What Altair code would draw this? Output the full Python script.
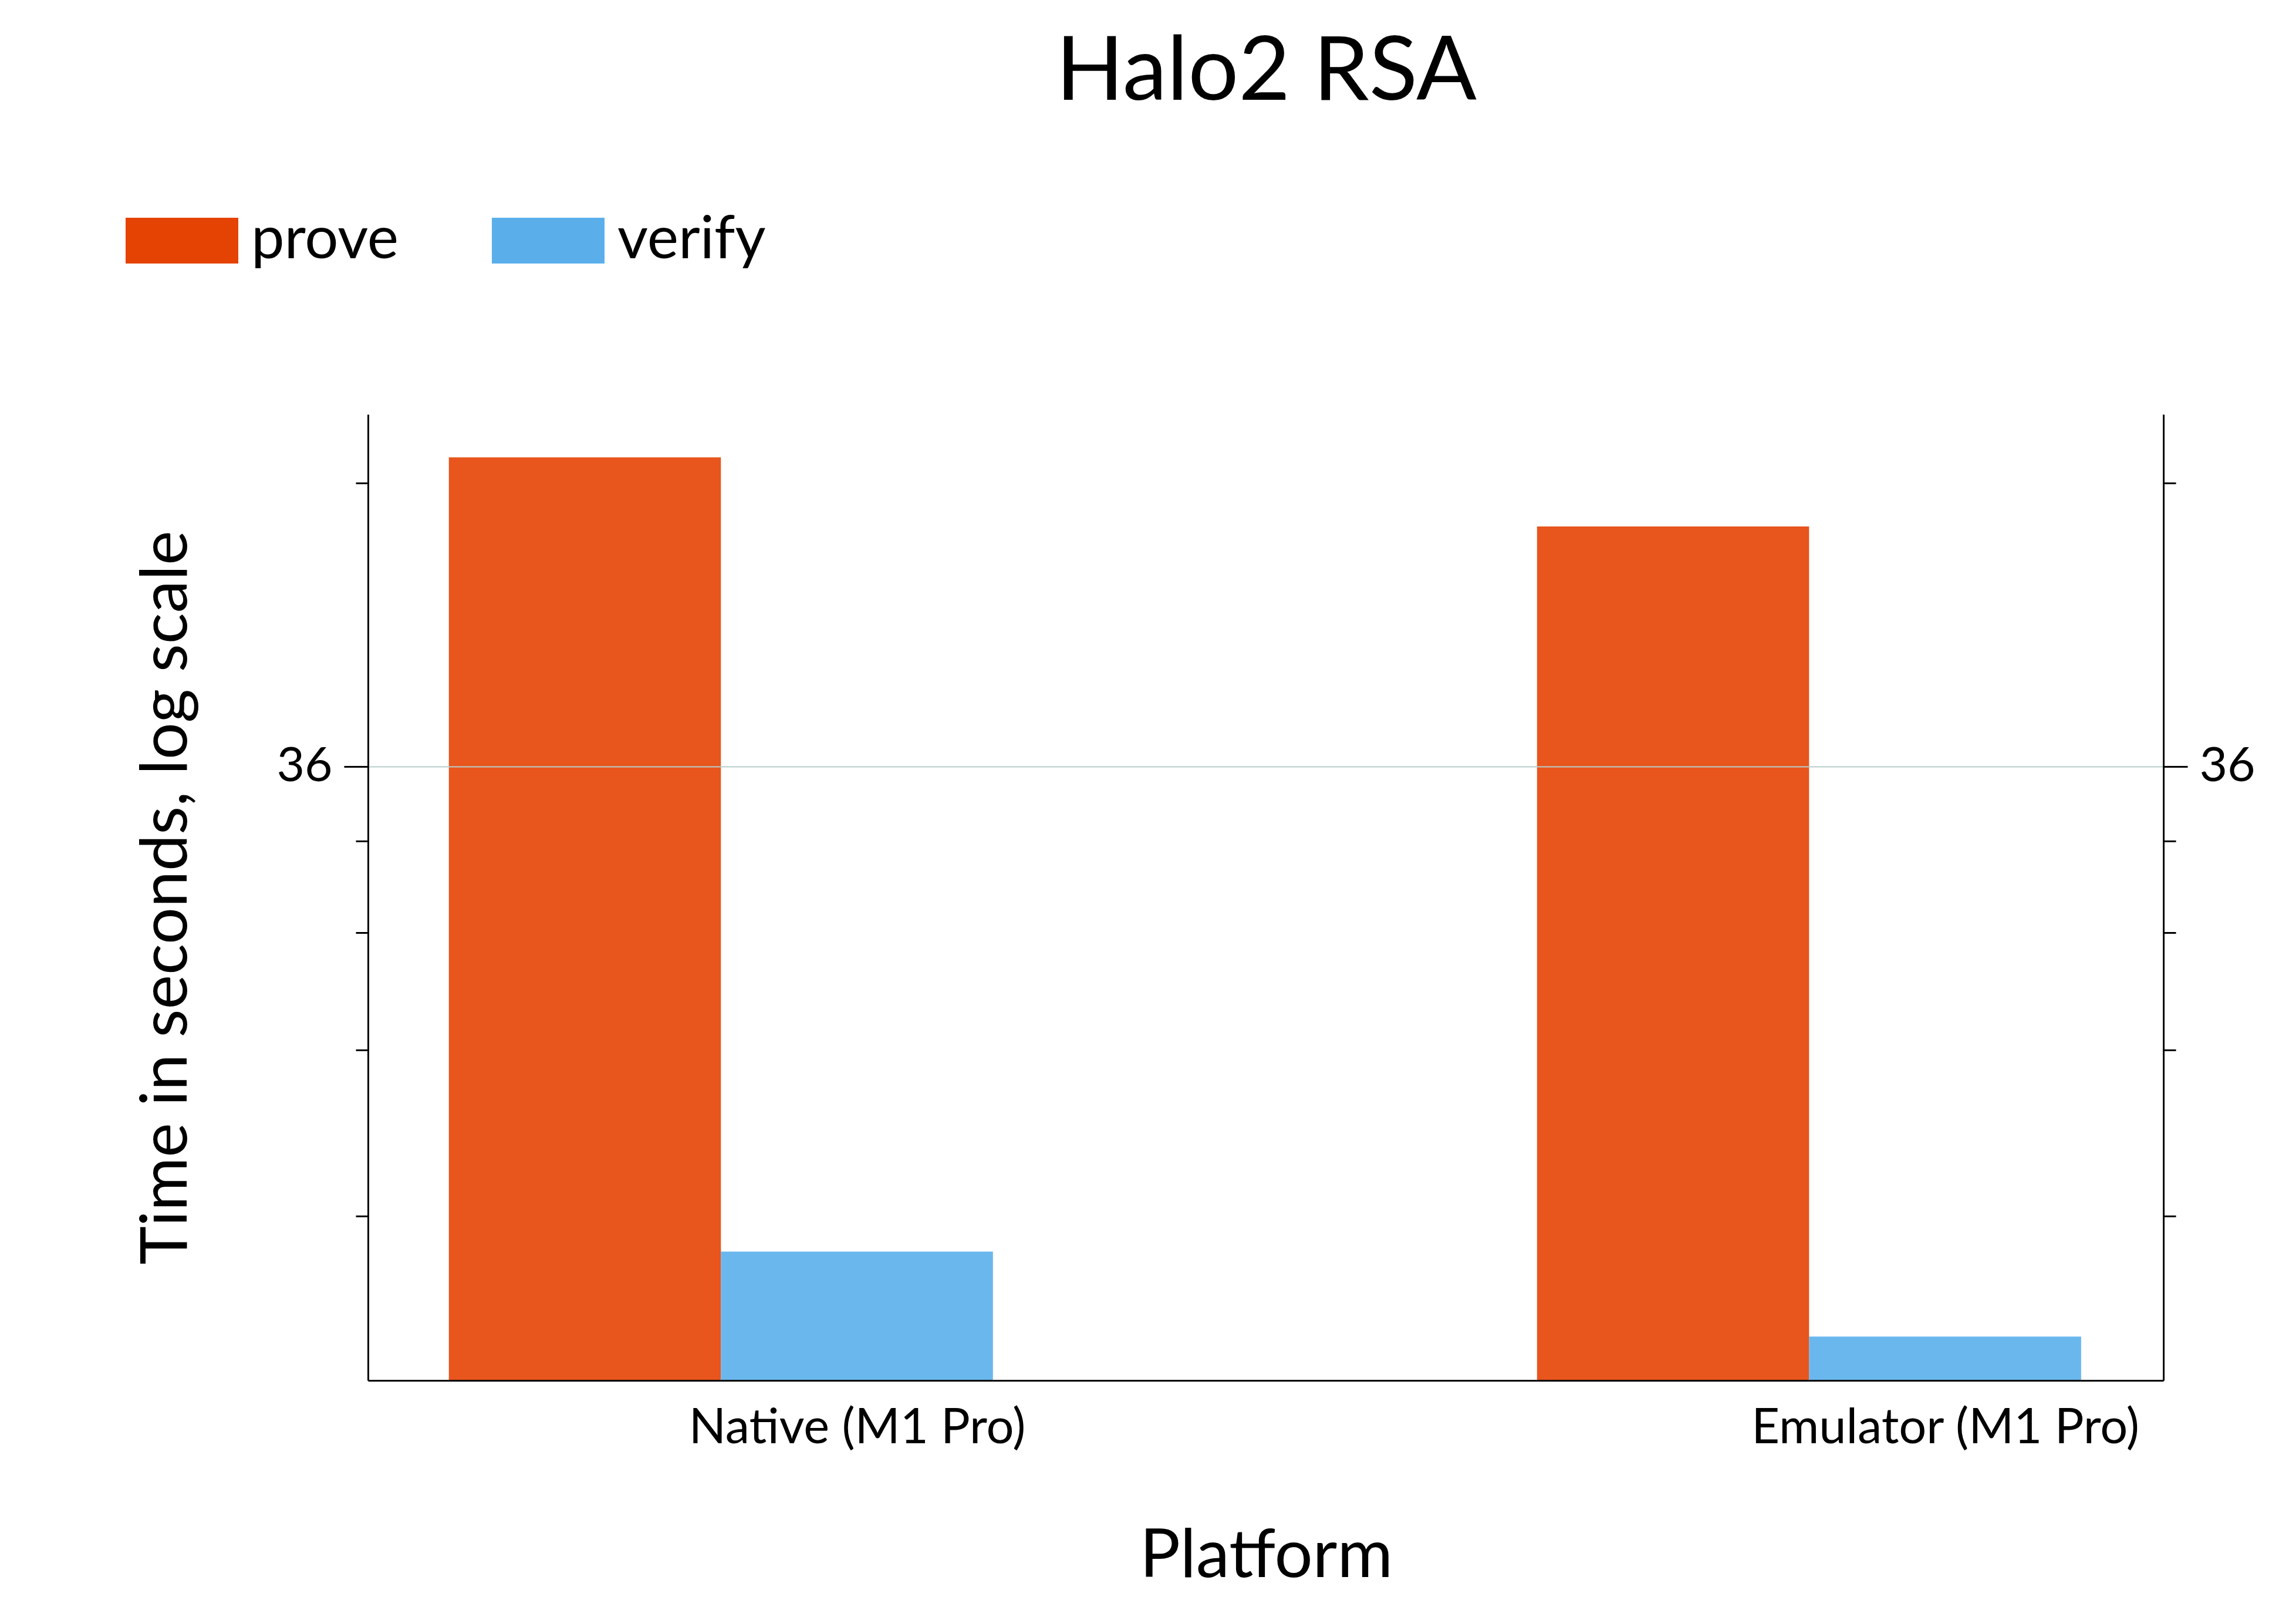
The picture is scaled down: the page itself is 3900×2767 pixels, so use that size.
import altair as alt
import pandas as pd

# ---- data ----
platforms = ["Native (M1 Pro)", "Emulator (M1 Pro)"]
series = ["prove", "verify"]
prove_seconds = [76.6, 64.7]
verify_seconds = [11.0, 8.94]

y_tick_values = [12, 18, 24, 30, 36, 72]
y_labelled = 36
y_min, y_max = 8.03, 85.1

colors = ["#E54304", "#5AAFEB"]
chart_title = "Halo2 RSA"

rows = []
for i, p in enumerate(platforms):
    rows.append({"platform": p, "series": "prove", "seconds": prove_seconds[i]})
    rows.append({"platform": p, "series": "verify", "seconds": verify_seconds[i]})
df = pd.DataFrame(rows)

FONT = "Lato"

base = alt.Chart(df).transform_calculate(
    pos="indexof(" + str(platforms) + ", datum.platform) + 1",
).transform_calculate(
    center="datum.series == 'prove' ? datum.pos - 0.25 : datum.pos",
).transform_calculate(
    x0="datum.center - 0.125",
    x1="datum.center + 0.125",
)

xscale = alt.Scale(domain=[0.5507, 2.2006], nice=False, zero=False)
yscale = alt.Scale(type="log", domain=[y_min, y_max], nice=False, zero=False)

label_expr = "datum.value == 1 ? '%s' : (datum.value == 2 ? '%s' : '')" % (platforms[0], platforms[1])

x_axis = alt.Axis(
    values=[1, 2], labelExpr=label_expr, ticks=False, grid=False,
    labelFontSize=83, labelFont=FONT, labelColor="black", labelPadding=40,
    labelLimit=3000, domainColor="black", domainWidth=3, labelOverlap=False,
    title="Platform", titleFont=FONT, titleFontSize=115, titleFontWeight="normal",
    titleColor="black", titleX=1530, titleY=334, titleBaseline="alphabetic",
    titleAlign="center", titleAnchor="middle", zindex=1, orient="bottom",
)

# top axis only carries the chart title
x_axis_top = alt.Axis(
    orient="top", values=[], domain=False, ticks=False, labels=False, grid=False,
    title=chart_title, titleFont=FONT, titleFontSize=152, titleFontWeight="normal",
    titleColor="black", titleX=1530, titleY=-537, titleBaseline="alphabetic",
    titleAlign="center", titleAnchor="middle",
)

tick_size = {"condition": {"test": "datum.value == %d" % y_labelled, "value": 41}, "value": 21}
grid_op = {"condition": {"test": "datum.value == %d" % y_labelled, "value": 1}, "value": 0}
ylab = "datum.value == %d ? '%d' : ''" % (y_labelled, y_labelled)

y_axis_left = alt.Axis(
    values=y_tick_values, labelExpr=ylab, tickSize=tick_size, tickWidth=3,
    tickColor="black", domainColor="black", domainWidth=3,
    grid=True, gridColor="#b5cecc", gridWidth=2, gridOpacity=grid_op,
    labelFontSize=82, labelFont=FONT, labelColor="black", labelPadding=20,
    labelOverlap=False, zindex=1, orient="left",
    title="Time in seconds, log scale", titleFont=FONT, titleFontSize=111,
    titleFontWeight="normal", titleColor="black", titleAngle=-90,
    titleX=-310, titleY=823, titleBaseline="alphabetic", titleAlign="center",
)

y_axis_right = alt.Axis(
    values=y_tick_values, labelExpr=ylab, tickSize=tick_size, tickWidth=3,
    tickColor="black", domainColor="black", domainWidth=3, grid=False,
    labelFontSize=82, labelFont=FONT, labelColor="black", labelPadding=20,
    labelOverlap=False, zindex=1, orient="right", title=None,
)

bars = base.mark_bar(opacity=0.9, clip=True).encode(
    x=alt.X("x0:Q", scale=xscale, axis=x_axis),
    x2="x1:Q",
    y=alt.Y("seconds:Q", scale=yscale, axis=y_axis_left),
    y2=alt.Y2(datum=y_min),
    color=alt.Color(
        "series:N",
        scale=alt.Scale(domain=series, range=colors),
        legend=alt.Legend(
            title=None, orient="none", direction="horizontal",
            legendX=-413, legendY=-392, padding=0,
            symbolType="M-1,-0.406H1V0.406H-1Z", symbolSize=36864,
            symbolOpacity=1, symbolStrokeWidth=0,
            labelFont=FONT, labelFontSize=101, labelColor="black",
            labelOffset=22, columnPadding=158, labelLimit=1000,
        ),
    ),
)

right = base.mark_bar(opacity=0).encode(
    x=alt.X("x0:Q", scale=xscale, axis=x_axis_top),
    x2="x1:Q",
    y=alt.Y("seconds:Q", scale=yscale, axis=y_axis_right),
    y2=alt.Y2(datum=y_min),
)

chart = alt.layer(bars, right).resolve_axis(x="independent", y="independent").properties(
    width=3059,
    height=1646,
    padding={"left": 619, "top": 698, "right": 200, "bottom": 400},
    autosize=alt.AutoSizeParams(type="none"),
    background="white",
).configure_view(strokeWidth=0, strokeOpacity=0)

chart.save("out.html", embed_options={"renderer": "svg", "actions": False})
